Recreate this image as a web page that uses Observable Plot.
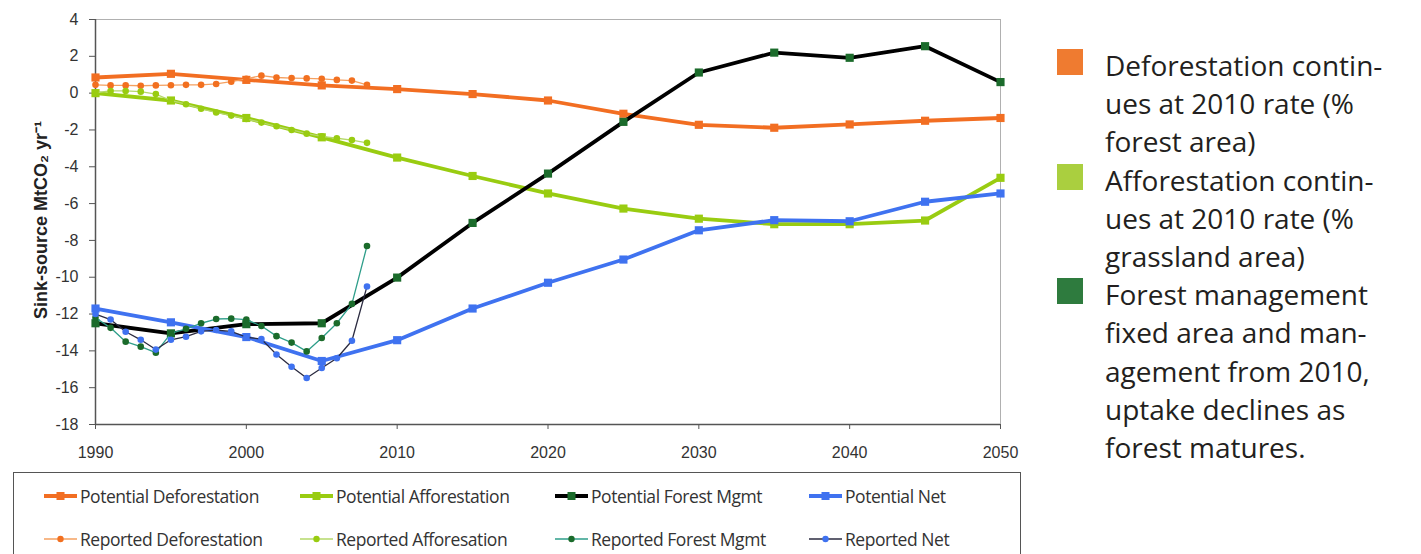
<!DOCTYPE html>
<html><head><meta charset="utf-8">
<script src="https://cdn.jsdelivr.net/npm/d3@7"></script>
<script src="https://cdn.jsdelivr.net/npm/@observablehq/plot@0.6"></script>
<style>
html,body{margin:0;padding:0;background:#fff;}
body{overflow:hidden;width:1421px;height:554px;position:relative;font-family:"Liberation Sans",Arial,sans-serif;}
#chart{position:absolute;left:0;top:0;}
#legend{position:absolute;left:13px;top:472px;width:1008px;height:100px;border:1.5px solid #555;border-bottom:none;box-sizing:border-box;}
.item{position:absolute;height:22px;display:flex;align-items:center;font-family:"Open Sans",sans-serif;font-size:17.5px;color:#333;white-space:nowrap;letter-spacing:-0.45px;}
.item svg{margin-right:2px;}
#side{position:absolute;left:1105px;top:46px;font-family:"Open Sans",sans-serif;font-size:28px;line-height:38.2px;color:#231f20;white-space:pre;letter-spacing:0px;}
.sq{position:absolute;left:1057px;width:26px;height:26px;}
</style>
</head><body>
<div id="chart"></div>
<div id="legend"></div>
<div id="side"></div>
<script>
// ---- data ----
const potentialYears = [1990,1995,2000,2005,2010,2015,2020,2025,2030,2035,2040,2045,2050];
const potDeforestation = [0.85,1.05,0.72,0.42,0.22,-0.05,-0.4,-1.12,-1.72,-1.88,-1.7,-1.5,-1.35];
const potAfforestation = [0,-0.4,-1.35,-2.4,-3.5,-4.5,-5.45,-6.27,-6.82,-7.12,-7.12,-6.92,-4.6];
const potForestMgmt = [-12.5,-13.05,-12.55,-12.5,-10.02,-7.05,-4.37,-1.56,1.12,2.2,1.92,2.55,0.6];
const potNet = [-11.7,-12.45,-13.25,-14.55,-13.42,-11.7,-10.3,-9.04,-7.45,-6.9,-6.96,-5.9,-5.45];

const reportedYears = [1990,1991,1992,1993,1994,1995,1996,1997,1998,1999,2000,2001,2002,2003,2004,2005,2006,2007,2008];
const repDeforestation = [0.45,0.42,0.42,0.4,0.42,0.43,0.45,0.45,0.5,0.62,0.78,0.95,0.85,0.82,0.8,0.78,0.72,0.68,0.45];
const repAfforestation = [0.02,0.12,0.12,0.08,-0.05,-0.4,-0.6,-0.85,-1.05,-1.22,-1.4,-1.6,-1.8,-2.0,-2.2,-2.35,-2.45,-2.55,-2.7];
const repForestMgmt = [-12.2,-12.75,-13.5,-13.77,-14.1,-13.05,-12.8,-12.5,-12.27,-12.25,-12.3,-12.65,-13.2,-13.55,-14.03,-13.3,-12.5,-11.45,-8.3];
const repNet = [-12.0,-12.3,-12.96,-13.4,-13.93,-13.4,-13.23,-12.94,-12.87,-12.94,-13.26,-13.36,-14.2,-14.86,-15.47,-14.93,-14.4,-13.45,-10.5];

const xTicks = [1990,2000,2010,2020,2030,2040,2050];
const yTicks = [4,2,0,-2,-4,-6,-8,-10,-12,-14,-16,-18];
const yLabel = "Sink-source MtCO₂ yr⁻¹";

const legendNames = ["Potential Deforestation","Potential Afforestation","Potential Forest Mgmt","Potential Net",
                     "Reported Deforestation","Reported Afforesation","Reported Forest Mgmt","Reported Net"];
const sideLegend = [
  {label:"Deforestation contin-\nues at 2010 rate (%\nforest area)"},
  {label:"Afforestation contin-\nues at 2010 rate (%\ngrassland area)"},
  {label:"Forest management\nfixed area and man-\nagement from 2010,\nuptake declines as\nforest matures."}
];

// ---- styles ----
const potStyles = [
  {line:"#f26e22", mark:"#f26e22"},
  {line:"#99cc11", mark:"#99cc11"},
  {line:"#000000", mark:"#1b6b2b"},
  {line:"#3f72f0", mark:"#3f72f0"}
];
const repStyles = [
  {line:"#f5a060", mark:"#f27020"},
  {line:"#b5d86a", mark:"#99cc11"},
  {line:"#2e9e8a", mark:"#1b6b2b"},
  {line:"#2b2b40", mark:"#3f72f0"}
];
const sideColors = ["#ef7b30","#aacf3f","#2e7b3e"];

const zip = (xs, ys) => xs.map((x,i)=>({x, y: ys[i]}));
const potSeries = [potDeforestation,potAfforestation,potForestMgmt,potNet].map(v=>zip(potentialYears,v));
const repSeries = [repDeforestation,repAfforestation,repForestMgmt,repNet].map(v=>zip(reportedYears,v));

const marks = [
  Plot.frame({stroke:"#b0b0b0", strokeWidth:1}),
  Plot.ruleX([1990], {stroke:"#555", strokeWidth:1.5}),
  Plot.ruleY([-18], {stroke:"#555", strokeWidth:1.5}),
  Plot.axisX({ticks:xTicks, tickFormat:d=>String(d), tickSize:5, tickPadding:17, label:null, stroke:"#555", fill:"#333", fontSize:16}),
  Plot.axisY({ticks:yTicks, tickFormat:d=>String(d), tickSize:6, tickPadding:11, label:null, stroke:"#555", fill:"#333", fontSize:16}),
  Plot.text([yLabel], {frameAnchor:"left", textAnchor:"middle", dx:-54, dy:-2, rotate:-90, fontWeight:"bold", fontSize:18, fill:"#222", text:d=>d})
];
potSeries.forEach((s,i)=>{
  marks.push(Plot.line(s, {x:"x", y:"y", stroke:potStyles[i].line, strokeWidth:3.8}));
  marks.push(Plot.dot(s, {x:"x", y:"y", symbol:"square", r:4.6, fill:potStyles[i].mark, stroke:"none"}));
});
repSeries.forEach((s,i)=>{
  marks.push(Plot.line(s, {x:"x", y:"y", stroke:repStyles[i].line, strokeWidth:1.3}));
  marks.push(Plot.dot(s, {x:"x", y:"y", r:3.3, fill:repStyles[i].mark, stroke:"none"}));
});

const chart = Plot.plot({
  width:1030, height:470,
  marginLeft:95, marginRight:30, marginTop:19, marginBottom:46,
  x:{domain:[1990,2050]},
  y:{domain:[-18,4]},
  style:{fontFamily:"'Liberation Sans', Arial, sans-serif", fontSize:"16px", background:"#fff", color:"#333"},
  marks
});
document.getElementById("chart").appendChild(chart);

// ---- bottom legend ----
const leg = document.getElementById("legend");
const colX = [29, 285, 540, 794];
const rowY = [12, 55];
legendNames.forEach((name,i)=>{
  const row = Math.floor(i/4), col = i%4;
  const st = row===0 ? potStyles[col] : repStyles[col];
  const div = document.createElement("div");
  div.className = "item";
  div.style.left = colX[col]+"px";
  div.style.top = rowY[row]+"px";
  const sym = row===0
    ? `<svg width="35" height="12"><line x1="1" y1="6" x2="34" y2="6" stroke="${st.line}" stroke-width="4"/><rect x="13.5" y="2" width="8" height="8" fill="${st.mark}"/></svg>`
    : `<svg width="35" height="12"><line x1="1" y1="6" x2="34" y2="6" stroke="${st.line}" stroke-width="1.5"/><circle cx="17.5" cy="6" r="3.2" fill="${st.mark}"/></svg>`;
  div.innerHTML = sym + "<span>"+name+"</span>";
  leg.appendChild(div);
});

// ---- side legend ----
const side = document.getElementById("side");
side.textContent = sideLegend.map(d=>d.label).join("\n");
let lineIdx = 0;
sideLegend.forEach((d,i)=>{
  const sq = document.createElement("div");
  sq.className = "sq";
  sq.style.background = sideColors[i];
  sq.style.top = (46 + lineIdx*38.2 + 3) + "px";
  document.body.appendChild(sq);
  lineIdx += d.label.split("\n").length;
});
</script>
</body></html>
